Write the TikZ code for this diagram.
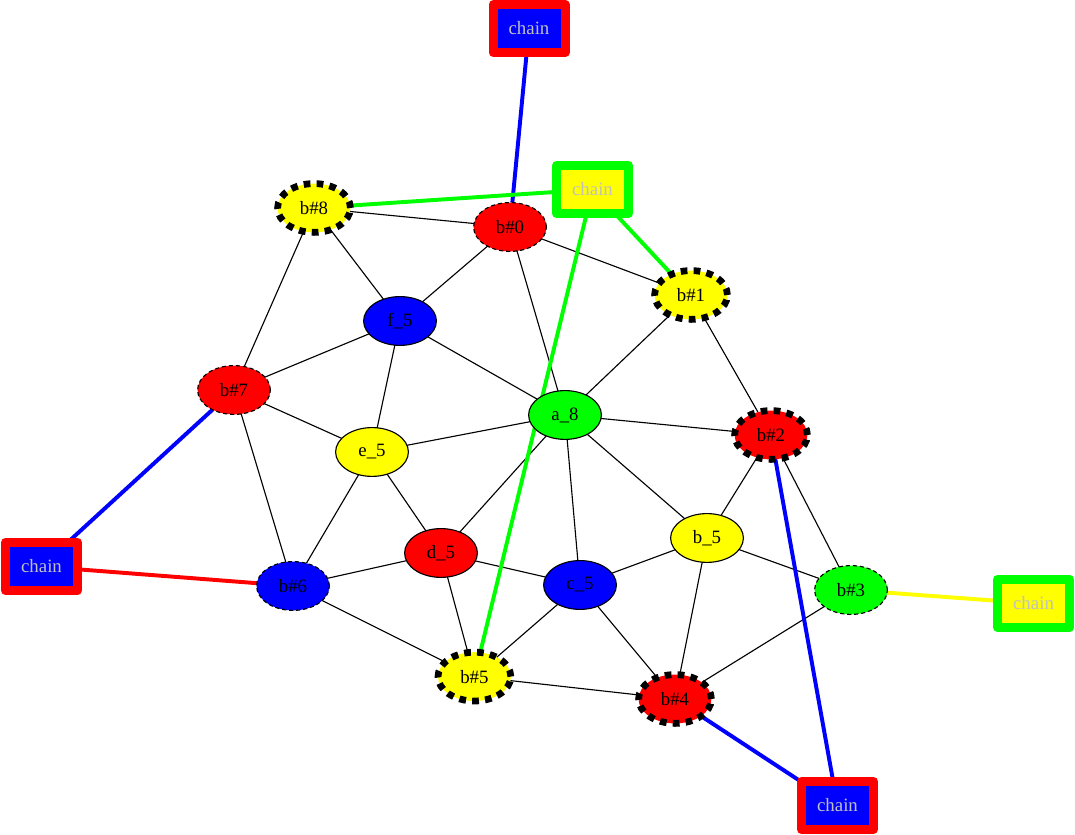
\documentclass[tikz,border=0pt]{standalone}
\usepackage{fontspec}
\setmainfont{Liberation Serif}
\usepackage{tikz}
\usetikzlibrary{shapes.geometric,backgrounds}

\definecolor{gvred}{RGB}{255,0,0}
\definecolor{gvblue}{RGB}{0,0,255}
\definecolor{gvgreen}{RGB}{0,255,0}
\definecolor{gvyellow}{RGB}{255,255,0}
\definecolor{chaingray}{RGB}{192,192,192}

\tikzset{
  vtx/.style={ellipse, draw=black, line width=0.8pt, outer sep=0pt,
    minimum width=1.82cm, minimum height=1.22cm, inner sep=0pt},
  thindash/.style={vtx, dash pattern=on 3pt off 2pt},
  thickdash/.style={vtx, line width=4.8pt, dash pattern=on 4.8pt off 4.4pt},
  chainbox/.style={rectangle, line width=6.4pt, line join=round, outer sep=0pt,
    minimum width=1.8cm, minimum height=1.2cm, inner sep=0pt, text=chaingray},
  link/.style={line width=0.8pt},
  tie/.style={line width=2.8pt}
}

\begin{document}
\begin{tikzpicture}[
  every node/.style={font=\fontsize{13.4}{15}\selectfont}
]

\path[use as bounding box] (0,0) rectangle (26.875,20.875);

% Graph vertices.
\node[thickdash, fill=gvyellow] (b8) at (7.85,15.675) {b\#8};
\node[thindash,  fill=gvred]    (b0) at (12.75,15.2)  {b\#0};
\node[thickdash, fill=gvyellow] (b1) at (17.275,13.5) {b\#1};
\node[vtx,       fill=gvblue]   (f5) at (10.0,12.85)  {f\_5};
\node[thindash,  fill=gvred]    (b7) at (5.85,11.125) {b\#7};
\node[vtx,       fill=gvgreen]  (a8) at (14.125,10.5) {a\_8};
\node[vtx,       fill=gvyellow] (e5) at (9.3,9.575)   {e\_5};
\node[thickdash, fill=gvred]    (b2) at (19.275,10.0) {b\#2};
\node[vtx,       fill=gvyellow] (bb5) at (17.675,7.425) {b\_5};
\node[vtx,       fill=gvred]    (d5) at (11.025,7.05) {d\_5};
\node[vtx,       fill=gvblue]   (c5) at (14.5,6.25)   {c\_5};
\node[thindash,  fill=gvblue]   (b6) at (7.325,6.225) {b\#6};
\node[thindash,  fill=gvgreen]  (b3) at (21.275,6.125) {b\#3};
\node[thickdash, fill=gvyellow] (b5) at (11.86,3.96)  {b\#5};
\node[thickdash, fill=gvred]    (b4) at (16.875,3.4)  {b\#4};

% Chain boxes.
\node[chainbox, draw=gvred,   fill=gvblue]   (chtop)   at (13.225,20.1625) {chain};
\node[chainbox, draw=gvgreen, fill=gvyellow] (chmid)   at (14.8125,16.1375) {chain};
\node[chainbox, draw=gvred,   fill=gvblue]   (chleft)  at (1.0375,6.7125)  {chain};
\node[chainbox, draw=gvgreen, fill=gvyellow] (chright) at (25.8375,5.7875) {chain};
\node[chainbox, draw=gvred,   fill=gvblue]   (chbot)   at (20.9375,0.7375) {chain};

\begin{scope}[on background layer]
% Plain edges.
\foreach \a/\b in {b8/b0, b8/f5, b8/b7, b0/f5, b0/b1, b0/a8, b1/a8, b1/b2,
                   f5/b7, f5/e5, f5/a8, b7/e5, b7/b6, a8/e5, a8/b2, a8/bb5,
                   a8/d5, a8/c5, e5/b6, e5/d5, b2/bb5, b2/b3, bb5/c5, bb5/b3,
                   bb5/b4, d5/b6, d5/c5, d5/b5, c5/b5, c5/b4, b6/b5, b5/b4,
                   b3/b4} {
  \draw[link] (\a) -- (\b);
}

% Chain ties.
\draw[tie, gvblue]   (chtop) -- (b0);
\draw[tie, gvgreen]  (chmid) -- (b8);
\draw[tie, gvgreen]  (chmid) -- (b1);
\draw[tie, gvgreen]  (chmid) -- (b5);
\draw[tie, gvblue]   (chleft) -- (b7);
\draw[tie, gvred]    (chleft) -- (b6);
\draw[tie, gvyellow] (chright) -- (b3);
\draw[tie, gvblue]   (chbot) -- (b2);
\draw[tie, gvblue]   (chbot) -- (b4);
\end{scope}

\end{tikzpicture}
\end{document}
